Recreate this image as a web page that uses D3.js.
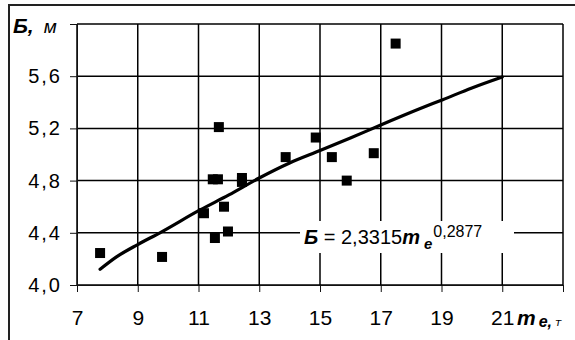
<!DOCTYPE html>
<html>
<head>
<meta charset="utf-8">
<script src="https://cdn.jsdelivr.net/npm/d3@7"></script>
<style>
  html, body { margin: 0; padding: 0; background: #fff; }
  svg { display: block; }
  text { font-family: "Liberation Sans", Arial, sans-serif; fill: #000; }
</style>
</head>
<body>
<script>
// Measured mass m_e (t) and width Б (m) for each sample
const massX = [7.76, 9.8, 11.18, 11.47, 11.64, 11.67, 11.54, 11.84, 11.97, 12.43, 12.43, 13.87, 14.86, 15.39, 15.88, 16.77, 17.49];
const widthY = [4.245, 4.215, 4.55, 4.81, 4.81, 5.21, 4.36, 4.60, 4.41, 4.82, 4.79, 4.98, 5.13, 4.98, 4.80, 5.01, 5.85];

// Power trend curve as plotted
const trendX = [7.76, 8.3, 9.0, 9.73, 11.05, 12, 13, 14, 15, 16, 17, 18.28, 19.04, 20, 21];
const trendY = [4.12, 4.215, 4.31, 4.40, 4.575, 4.69, 4.82, 4.935, 5.03, 5.126, 5.226, 5.35, 5.42, 5.51, 5.594];

// Axis ticks
const xTicks = [7, 9, 11, 13, 15, 17, 19, 21, 23];
const xTickLabels = ["7", "9", "11", "13", "15", "17", "19", "21", ""];
const yTicks = [4.0, 4.4, 4.8, 5.2, 5.6, 6.0];
const yTickLabels = ["4,0", "4,4", "4,8", "5,2", "5,6", ""];

const W = 575, H = 340;
const plotL = 77, plotR = 563, plotT = 24, plotB = 285;

const svg = d3.select("body").append("svg")
  .attr("width", W).attr("height", H)
  .attr("viewBox", `0 0 ${W} ${H}`);

// outer frame (continues past the right and bottom edges)
svg.append("path")
  .attr("d", `M9,${H} V5 H${W}`)
  .attr("fill", "none").attr("stroke", "#222").attr("stroke-width", 2);

const x = d3.scaleLinear().domain([7, 23]).range([plotL, plotR]);
const y = d3.scaleLinear().domain([4, 6]).range([plotB, plotT]);

// grid lines at every tick position
const grid = svg.append("g").attr("fill", "none");
grid.selectAll("line.gv").data(xTicks).join("line")
  .attr("class", "gv")
  .attr("x1", d => x(d)).attr("x2", d => x(d))
  .attr("y1", plotT).attr("y2", plotB)
  .style("stroke", "#000").style("stroke-width", "1.5px");
grid.selectAll("line.gh").data(yTicks).join("line")
  .attr("class", "gh")
  .attr("x1", plotL).attr("x2", plotR)
  .attr("y1", d => y(d)).attr("y2", d => y(d))
  .style("stroke", "#000").style("stroke-width", "1.5px");

// axes
const xAxis = d3.axisBottom(x).tickValues(xTicks).tickFormat((d, i) => xTickLabels[i])
  .tickSizeInner(7).tickSizeOuter(0).tickPadding(18);
const yAxis = d3.axisLeft(y).tickValues(yTicks).tickFormat((d, i) => yTickLabels[i])
  .tickSizeInner(7).tickSizeOuter(0).tickPadding(10);

const gx = svg.append("g").attr("transform", `translate(0,${plotB})`).call(xAxis);
const gy = svg.append("g").attr("transform", `translate(${plotL},0)`).call(yAxis);
[gx, gy].forEach(g => {
  g.selectAll("path.domain").attr("stroke", "#111");
  g.selectAll("line").attr("stroke", "#111");
  g.selectAll("text").attr("font-family", "'Liberation Sans', Arial, sans-serif").attr("fill", "#000");
});
gx.selectAll("text").attr("font-size", 21).attr("dy", "0.71em");
gy.selectAll("text").attr("font-size", 20).attr("letter-spacing", "2px").attr("dx", "2px");

// trend curve
const trendLine = d3.line().x(d => x(d[0])).y(d => y(d[1])).curve(d3.curveMonotoneX);
svg.append("path")
  .datum(trendX.map((v, i) => [v, trendY[i]]))
  .attr("d", trendLine)
  .attr("fill", "none").attr("stroke", "#000").attr("stroke-width", 3.2)
  .attr("stroke-linecap", "round").attr("stroke-linejoin", "round");

// data markers
const sz = 10;
svg.append("g").selectAll("rect").data(massX.map((v, i) => [v, widthY[i]])).join("rect")
  .attr("x", d => x(d[0]) - sz / 2).attr("y", d => y(d[1]) - sz / 2)
  .attr("width", sz).attr("height", sz).attr("fill", "#000");

// equation label on a white box
const eqG = svg.append("g");
eqG.append("rect").attr("x", 300).attr("y", 221).attr("width", 214).attr("height", 32).attr("fill", "#fff");
const eq = eqG.append("text").attr("x", 304).attr("y", 244).attr("font-size", 20);
eq.append("tspan").attr("font-weight", "bold").attr("font-style", "italic").text("Б");
eq.append("tspan").text(" = 2,3315");
eq.append("tspan").attr("font-weight", "bold").attr("font-style", "italic").text("m");
eq.append("tspan").attr("font-weight", "bold").attr("font-style", "italic").attr("font-size", 15).attr("dx", 4).attr("dy", 5).text("e");
eq.append("tspan").attr("font-size", 16).attr("dx", 1).attr("dy", -12).text("0,2877");

// axis titles
const yt = svg.append("text").attr("x", 13).attr("y", 33).attr("font-size", 21);
yt.append("tspan").attr("font-weight", "bold").attr("font-style", "italic").text("Б,");
yt.append("tspan").attr("font-style", "italic").attr("font-size", 19).attr("dx", 10).text("м");

const xt = svg.append("text").attr("x", 517).attr("y", 325).attr("font-size", 21);
xt.append("tspan").attr("font-weight", "bold").attr("font-style", "italic").text("m");
xt.append("tspan").attr("font-weight", "bold").attr("font-style", "italic").attr("font-size", 16).attr("dx", 3).attr("dy", 2).text("e,");
xt.append("tspan").attr("font-family", "'DejaVu Sans', sans-serif").attr("font-style", "oblique").attr("font-size", 11).attr("dx", 3).attr("dy", -1).text("т");
</script>
</body>
</html>
